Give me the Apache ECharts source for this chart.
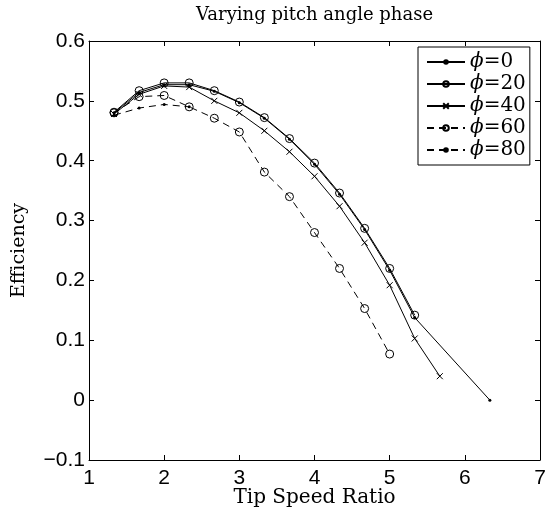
<!DOCTYPE html>
<html>
<head>
<meta charset="utf-8">
<script src="https://cdn.jsdelivr.net/npm/echarts@6/dist/echarts.min.js"></script>
<style>
  html, body { margin: 0; padding: 0; background: #fff; }
  #chart { width: 547px; height: 514px; }
</style>
</head>
<body>
<div id="chart"></div>
<script>
// ---- data ----
const tsr   = [1.333, 1.667, 2.0, 2.333, 2.667, 3.0, 3.333, 3.667, 4.0, 4.333, 4.667, 5.0, 5.333, 5.667, 6.333];
const phi0  = [0.480, 0.514, 0.527, 0.527, 0.516, 0.497, 0.471, 0.436, 0.394, 0.344, 0.285, 0.217, 0.138, null, 0.0];
const phi20 = [0.481, 0.517, 0.530, 0.530, 0.517, 0.498, 0.472, 0.437, 0.396, 0.346, 0.287, 0.220, 0.142, null, null];
const phi40 = [0.478, 0.511, 0.525, 0.523, 0.500, 0.480, 0.450, 0.415, 0.374, 0.324, 0.263, 0.192, 0.103, 0.040, null];
const phi60 = [0.480, 0.507, 0.509, 0.490, 0.471, 0.448, 0.381, 0.340, 0.280, 0.220, 0.153, 0.077, null, null, null];
const phi80 = [0.476, 0.488, 0.494, 0.490, null, null, null, null, null, null, null, null, null, null, null];
const seriesNames = ['ϕ=0', 'ϕ=20', 'ϕ=40', 'ϕ=60', 'ϕ=80'];
const xTicks = { min: 1, max: 7, interval: 1 };
const yTicks = { min: -0.1, max: 0.6, interval: 0.1 };

function pairs(ys) {
  const out = [];
  for (let i = 0; i < tsr.length; i++) {
    if (ys[i] !== null) out.push([tsr[i], ys[i]]);
  }
  return out;
}

const serif = 'DejaVu Serif';
const sans = 'Liberation Sans';
const black = '#000';

function mk(name, ys, symbol, size, dashed, fillSym) {
  return {
    type: 'line',
    name: name,
    data: pairs(ys),
    symbol: symbol,
    symbolSize: size,
    showSymbol: true,
    lineStyle: { color: black, width: 1, type: dashed ? [7, 5] : 'solid' },
    itemStyle: fillSym
      ? { color: black, borderColor: black, borderWidth: 0 }
      : { color: 'transparent', borderColor: black, borderWidth: 1 },
    emphasis: { disabled: true },
    z: 3
  };
}
const xPath = 'path://M0,0L10,10M10,0L0,10';

const axisLineStyle = { show: true, onZero: false, lineStyle: { color: black, width: 1 } };
const tickStyle = { show: true, inside: true, length: 5, lineStyle: { color: black, width: 1 } };
const fmt = v => String(Math.round(v * 10) / 10).replace('-', '\u2212');

const option = {
  animation: false,
  backgroundColor: '#fff',
  grid: { left: 89, right: 7, top: 41, bottom: 54, containLabel: false, outerBoundsMode: 'none' },
  xAxis: [
    {
      type: 'value', position: 'bottom', min: xTicks.min, max: xTicks.max, interval: xTicks.interval,
      axisLine: axisLineStyle, axisTick: tickStyle, splitLine: { show: false },
      axisLabel: { color: black, fontFamily: sans, fontSize: 21, margin: 8, formatter: fmt },
      name: 'Tip Speed Ratio', nameLocation: 'middle', nameGap: 28, nameMoveOverlap: false,
      nameTextStyle: { color: black, fontFamily: serif, fontSize: 20 }
    },
    {
      type: 'value', position: 'top', min: xTicks.min, max: xTicks.max, interval: xTicks.interval,
      axisLine: axisLineStyle, axisTick: tickStyle, splitLine: { show: false },
      axisLabel: { show: false },
      name: 'Varying pitch angle phase', nameLocation: 'middle', nameGap: 17,
      nameTextStyle: { color: black, fontFamily: serif, fontSize: 18 }
    }
  ],
  yAxis: [
    {
      type: 'value', position: 'left', min: yTicks.min, max: yTicks.max, interval: yTicks.interval,
      axisLine: axisLineStyle, axisTick: tickStyle, splitLine: { show: false },
      axisLabel: { color: black, fontFamily: sans, fontSize: 21, margin: 4, formatter: fmt },
      name: 'Efficiency', nameLocation: 'middle', nameGap: 60, nameRotate: 90, nameMoveOverlap: false,
      nameTextStyle: { color: black, fontFamily: serif, fontSize: 19 }
    },
    {
      type: 'value', position: 'right', min: yTicks.min, max: yTicks.max, interval: yTicks.interval,
      axisLine: axisLineStyle, axisTick: tickStyle, splitLine: { show: false },
      axisLabel: { show: false }
    }
  ],
  legend: {
    orient: 'vertical',
    left: 418, top: 47,
    padding: [4, 4, 4, 8],
    itemGap: 0,
    itemWidth: 38,
    itemHeight: 7,
    borderColor: black, borderWidth: 1,
    backgroundColor: '#fff',
    data: seriesNames,
    formatter: name => '{i|ϕ}{n|' + name.slice(1) + '}',
    textStyle: {
      color: black, fontFamily: serif, fontSize: 20, lineHeight: 22,
      rich: {
        i: { fontFamily: serif, fontStyle: 'italic', fontSize: 20, color: black, lineHeight: 22 },
        n: { fontFamily: serif, fontSize: 20, color: black, lineHeight: 22 }
      }
    }
  },
  series: [
    mk(seriesNames[0], phi0, 'circle', 3, false, true),
    mk(seriesNames[1], phi20, 'circle', 8, false, false),
    mk(seriesNames[2], phi40, xPath, 6, false, false),
    mk(seriesNames[3], phi60, 'circle', 8, true, false),
    mk(seriesNames[4], phi80, 'circle', 3, true, true)
  ]
};

const chart = echarts.init(document.getElementById('chart'), null, { renderer: 'canvas' });
chart.setOption(option);
</script>
</body>
</html>
